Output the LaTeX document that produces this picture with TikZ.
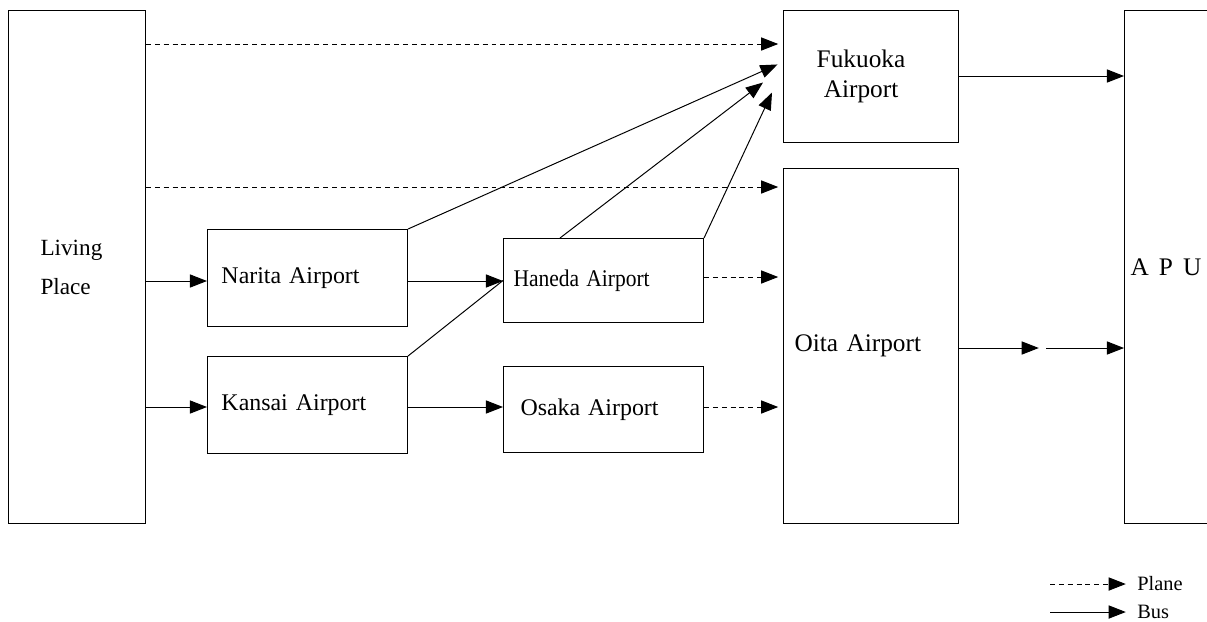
\documentclass[tikz,border=0pt]{standalone}
\usepackage{fontspec}
\setmainfont{Liberation Serif}
\usetikzlibrary{arrows.meta, positioning, calc}

\begin{document}
\begin{tikzpicture}[
            x=0.025cm, y=-0.025cm,
            box/.style={rectangle, draw, anchor=north west, inner ysep=0pt, align=left,
                        font=\fontsize{17}{20}\selectfont, line width=0.7pt},
            bus/.style={-{Triangle[length=0.43cm, width=0.33cm]}, line width=0.7pt},
            plane/.style={bus, dash pattern=on 3.5pt off 2.8pt},
            link/.style={line width=0.7pt}
        ]
            \useasboundingbox (0,0) rectangle (1207,621);

            % Start and end
            \node[box, inner xsep=0.8cm, text width=1.825cm, minimum height=12.825cm,
                  font=\fontsize{16.5}{27.6}\selectfont] (living) at (8,10) {Living\\Place};
            \node[box, inner xsep=0.15cm, text width=3cm, minimum height=12.825cm,
                  font=\fontsize{18}{21}\selectfont] (apu) at (1124,10) {A\hspace{0.4em}P\hspace{0.4em}U};

            % Airports near home
            \node[box, inner xsep=0.35cm, text width=4.3cm, minimum height=2.425cm] (narita) at (207,229) {Narita Airport};
            \node[box, inner xsep=0.35cm, text width=4.3cm, minimum height=2.425cm] (kansai) at (207,356) {Kansai Airport};
            \node[box, inner xsep=0.25cm, text width=4.5cm, minimum height=2.1cm] (haneda) at (503,238) {\scalebox{0.9}[1]{Haneda Airport}};
            \node[box, inner xsep=0.425cm, text width=4.15cm, minimum height=2.15cm] (osaka) at (503,366) {Osaka Airport};

            % Airports in Kyushu
            \node[box, inner xsep=0.2cm, text width=3.975cm, minimum height=3.3cm, align=center,
                  font=\fontsize{18}{21.3}\selectfont] (fukuoka) at (783,10) {\hspace*{-0.5cm}Fukuoka\\\hspace*{-0.5cm}Airport};
            \node[box, inner xsep=0.275cm, text width=3.825cm, minimum height=8.875cm,
                  font=\fontsize{18}{21}\selectfont] (oita) at (783,168) {Oita Airport};
            \coordinate (relay) at (1042,348);

            % Planes
            \draw[plane, shorten >=0.12cm] (living.east |- 0,44) -- (fukuoka.west |- 0,44);
            \draw[plane, shorten >=0.12cm] (living.east |- 0,187) -- (oita.west |- 0,187);
            \draw[plane, shorten >=0.12cm] (haneda.east |- 0,277) -- (oita.west |- 0,277);
            \draw[plane, shorten >=0.12cm] (osaka.east |- 0,407) -- (oita.west |- 0,407);
            \draw[bus, shorten >=0.15cm] (narita.north east) -- (fukuoka.west |- 0,62);
            \draw[bus] ($(haneda.north west)+(57,0)$) -- ($(fukuoka.west)+(-20,6)$);
            \draw[bus] (haneda.north east) -- ($(fukuoka.west)+(-11,16)$);

            % Buses and trains
            \draw[bus] (living.east |- 0,281) -- (narita.west |- 0,281);
            \draw[bus] (living.east |- 0,407) -- (kansai.west |- 0,407);
            \draw[bus] (narita.east |- 0,281) -- (haneda.west |- 0,281);
            \draw[bus] (kansai.east |- 0,407) -- (osaka.west |- 0,407);
            \draw[link] (kansai.north east) -- (haneda.west);
            \draw[bus] (fukuoka.east |- 0,76) -- (apu.west |- 0,76);
            \draw[bus] (oita.east |- relay) -- ([xshift=-0.08cm]relay);
            \draw[bus] ([xshift=0.1cm]relay) -- (apu.west |- relay);

            % Legend
            \node[anchor=west, inner sep=0pt, font=\fontsize{14.5}{16}\selectfont] (plane) at (1137,584) {Plane};
            \node[anchor=west, inner sep=0pt, font=\fontsize{14.5}{16}\selectfont] (bus) at (1137,612) {Bus};
            \coordinate (planestart) at (1050,584);
            \coordinate (busstart) at (1050,612);
            \draw[plane] (planestart) -- ([xshift=-0.28cm]plane.west);
            \draw[bus] (busstart) -- ([xshift=-0.28cm]bus.west);
        \end{tikzpicture}
\end{document}
